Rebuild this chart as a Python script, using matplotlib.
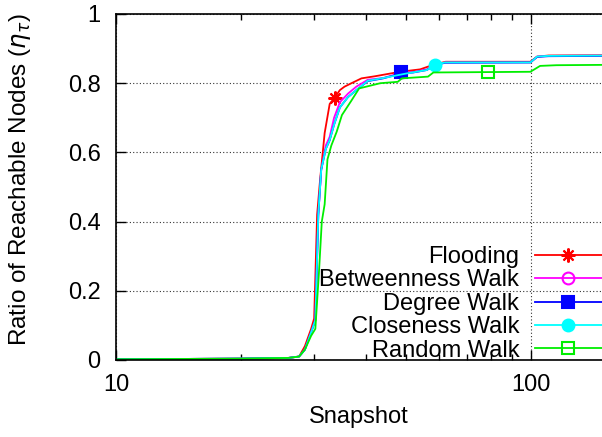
import matplotlib
matplotlib.use('Agg')
import matplotlib.pyplot as plt
from matplotlib.ticker import FixedLocator, FuncFormatter, NullFormatter

plt.rcParams['font.family'] = ['Liberation Sans', 'DejaVu Sans']
plt.rcParams['mathtext.fontset'] = 'dejavusans'

# data
flood_x = [10, 20, 26, 27.6, 28.5, 29.5, 30.0, 30.5, 31.0, 31.8, 32.7, 33.6, 34.6, 35.5,
           36.9, 39, 42, 48.3, 54, 58, 62.2, 99.5, 103.3, 110, 150]
flood_y = [0.002, 0.004, 0.006, 0.01, 0.04, 0.09, 0.12, 0.42, 0.52, 0.656, 0.74, 0.758, 0.78, 0.79,
           0.80, 0.814, 0.82, 0.833, 0.84, 0.853, 0.862, 0.862, 0.877, 0.88, 0.881]

betw_x = [10, 20, 26, 27.6, 28.5, 29.5, 30.2, 30.7, 31.2, 32.0, 32.7, 33.5, 34.6, 36.2, 37.9,
          40.4, 44, 48.6, 52, 56, 58.6, 62, 99.5, 103.3, 110, 150]
betw_y = [0.002, 0.004, 0.006, 0.01, 0.03, 0.08, 0.115, 0.42, 0.55, 0.62, 0.645, 0.70, 0.745, 0.77, 0.79,
          0.81, 0.815, 0.83, 0.832, 0.84, 0.853, 0.86, 0.86, 0.877, 0.879, 0.88]

deg_x = [10, 20, 26, 27.6, 28.5, 29.5, 30.2, 30.7, 31.2, 32.0, 32.7, 33.5, 34.6, 36.2, 37.9,
         40.4, 44, 48.6, 52, 56, 58.6, 62, 99.5, 103.3, 110, 150]
deg_y = [0.002, 0.004, 0.006, 0.01, 0.03, 0.08, 0.115, 0.42, 0.55, 0.61, 0.635, 0.68, 0.73, 0.76, 0.78,
         0.806, 0.814, 0.828, 0.831, 0.838, 0.852, 0.859, 0.86, 0.876, 0.878, 0.879]

clos_x = [10, 20, 26, 27.6, 28.5, 29.5, 30.2, 30.7, 31.2, 32.0, 32.7, 33.5, 34.6, 36.2, 37.9,
          40.4, 44, 50, 56, 58.6, 62, 99.5, 103.3, 110, 150]
clos_y = [0.002, 0.004, 0.006, 0.01, 0.03, 0.08, 0.115, 0.42, 0.55, 0.61, 0.636, 0.68, 0.73, 0.76, 0.78,
          0.807, 0.815, 0.828, 0.838, 0.853, 0.86, 0.86, 0.877, 0.879, 0.88]

rand_x = [10, 20, 26, 27.6, 28.5, 29.5, 30.2, 30.8, 31.3, 31.8, 32.3, 33.0, 34.0, 35, 36.9,
          38.5, 43.3, 47.7, 48.8, 56.4, 58.1, 99.5, 105, 115, 150]
rand_y = [0.002, 0.004, 0.006, 0.01, 0.03, 0.07, 0.09, 0.25, 0.40, 0.45, 0.58, 0.62, 0.66, 0.708, 0.75,
          0.785, 0.80, 0.804, 0.814, 0.819, 0.831, 0.833, 0.85, 0.852, 0.853]

# single marker point per series
mark_x = [33.6, 48.6, 48.6, 58.6, 78.7]
mark_y = [0.758, 0.832, 0.832, 0.853, 0.833]

labels = ['Flooding', 'Betweenness Walk', 'Degree Walk', 'Closeness Walk', 'Random Walk']
colors = ['#ff0000', '#ff00ff', '#0000ff', '#00ffff', '#00ee00']
markers = [(8, 2, 0), 'o', 's', 'o', 's']
fills = ['#ff0000', 'none', '#0000ff', '#00ffff', 'none']
msizes = [10, 8.5, 8.5, 8.5, 8.5]

series = [(flood_x, flood_y), (betw_x, betw_y), (deg_x, deg_y), (clos_x, clos_y), (rand_x, rand_y)]

fig = plt.figure(figsize=(6.02, 4.37), dpi=100)
ax = fig.add_axes([116 / 602, 77 / 437, 486 / 602, 346 / 437])

handles = []
for i, (xs, ys) in enumerate(series):
    ax.plot(xs, ys, color=colors[i], lw=1.3)
    ax.plot([mark_x[i]], [mark_y[i]], linestyle='none', marker=markers[i], ms=msizes[i],
            mfc=fills[i], mec=colors[i], mew=1.5)
    h, = ax.plot([], [], color=colors[i], lw=1.3, marker=markers[i], ms=msizes[i],
                 mfc=fills[i], mec=colors[i], mew=1.5, label=labels[i])
    handles.append(h)

ax.set_xscale('log')
ax.set_xlim(10, 148)
ax.set_ylim(0, 1)
ax.xaxis.set_major_locator(FixedLocator([10, 100]))
ax.xaxis.set_minor_locator(FixedLocator([20, 30, 40, 50, 60, 70, 80, 90]))
ax.xaxis.set_major_formatter(FuncFormatter(lambda v, p: '%d' % v))
ax.xaxis.set_minor_formatter(NullFormatter())
ax.set_yticks([0, 0.2, 0.4, 0.6, 0.8, 1])
ax.yaxis.set_major_formatter(FuncFormatter(lambda v, p: '%g' % v))

ax.tick_params(which='both', direction='in', top=True, right=False, labelsize=17, width=1)
ax.tick_params(which='major', length=7)
ax.tick_params(axis='y', which='major', pad=11)
ax.tick_params(axis='x', which='major', pad=10)
ax.tick_params(which='minor', length=4)
ax.spines['right'].set_visible(False)
for s in ['left', 'top', 'bottom']:
    ax.spines[s].set_linewidth(1.2)

ax.grid(True, which='major', linestyle=(0, (1, 2)), color='#333333', lw=0.8)

ax.set_xlabel('Snapshot', fontsize=17, labelpad=7)
ax.set_ylabel(r'Ratio of Reachable Nodes ($\eta_\tau$)', fontsize=17.5, va='center')
ax.yaxis.set_label_coords(-0.197, 0.52)

ax.legend(handles=handles, loc='lower right', frameon=False, markerfirst=False, fontsize=17,
          handlelength=2.85, handletextpad=0.65, labelspacing=0.06, borderaxespad=0.0,
          borderpad=0.0, bbox_to_anchor=(1.0, -0.005))

fig.savefig('out.png', dpi=100)
